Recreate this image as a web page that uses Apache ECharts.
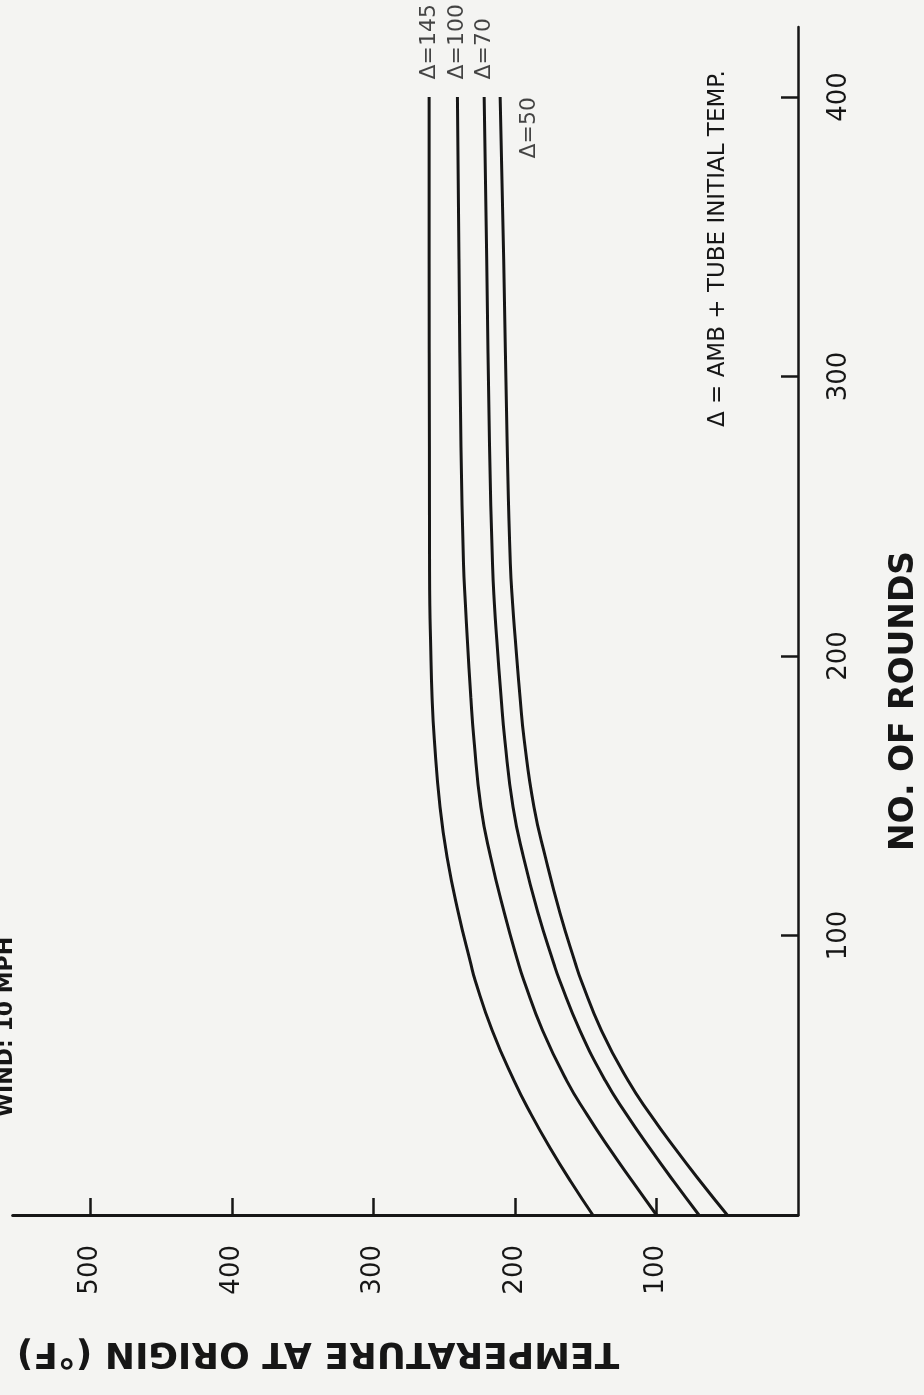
<!DOCTYPE html>
<html><head><meta charset="utf-8">
<script src="https://cdn.jsdelivr.net/npm/echarts@6/dist/echarts.min.js"></script>
<style>html,body{margin:0;padding:0;background:#f4f4f2}#chart{width:924px;height:1395px}</style>
</head><body><div id="chart"></div>
<script>
// No. of rounds (shared sample positions for all curves)
const rounds   = [0, 12, 24, 36, 48, 66, 84, 90, 108, 128, 146, 170, 185, 206, 218, 233, 275, 342, 400];
// Temperature at origin (°F) for each initial-temperature sum Δ
const temp145  = [145, 160.6, 175.2, 188.6, 200.6, 216.1, 228.2, 231.3, 240, 248, 253, 257, 258.6, 259.7, 260.2, 260.4, 260.5, 260.7, 260.7];
const temp100  = [100, 117, 133.6, 149.2, 163.4, 180.5, 193.8, 197.6, 207.5, 217.2, 224.1, 229, 231.2, 233.7, 235, 236.4, 238.2, 239.6, 240.7];
const temp70   = [70, 87.8, 104.9, 121.2, 136.1, 154.1, 168.5, 172.6, 183.7, 194, 201.4, 207.2, 209.8, 212.9, 214.5, 215.9, 218, 220, 221.8];
const temp50   = [50, 69, 87.2, 104.4, 120, 138.9, 153.3, 157.3, 168.2, 178.5, 186.6, 193.5, 196.4, 199.8, 201.6, 203.3, 205.5, 208, 210.5];
const curveNames = ['Δ=145', 'Δ=100', 'Δ=70', 'Δ=50'];
const tempTicks  = [100, 200, 300, 400, 500];
const roundTicks = [100, 200, 300, 400];

const INK = '#161616';
const FONT = 'DejaVu Sans';
const curves = [temp145, temp100, temp70, temp50];

const lineSeries = curves.map((t, k) => ({
  name: curveNames[k],
  type: 'line',
  data: rounds.map((r, i) => [t[i], r]),
  symbol: 'none',
  smooth: 0.5,
  silent: true,
  lineStyle: { color: INK, width: 3 },
  z: 3
}));

const last = rounds.length - 1;
const endLabels = {
  type: 'scatter',
  silent: true,
  symbolSize: 1,
  itemStyle: { color: 'rgba(0,0,0,0)' },
  label: { show: true, formatter: p => p.name, rotate: 90, color: INK, fontFamily: FONT, fontSize: 22 },
  data: curves.map((t, k) => ({
    name: curveNames[k],
    value: [t[last], rounds[last]],
    label: k === curves.length - 1
      ? { position: 'right', distance: 18, align: 'right', verticalAlign: 'top' }
      : { position: 'top', distance: 17, align: 'left', verticalAlign: 'middle' }
  })),
  z: 4
};

const chart = echarts.init(document.getElementById('chart'), null, { renderer: 'canvas' });
chart.setOption({
  backgroundColor: '#f4f4f2',
  animation: false,
  grid: { left: 12.7, right: 126, top: 27.1, bottom: 180, outerBoundsMode: 'none' },
  xAxis: {
    type: 'value', inverse: true, min: 0, max: 555, position: 'bottom',
    axisLine: { show: true, onZero: false, lineStyle: { color: INK, width: 3 } },
    axisTick: { show: true, inside: true, length: 17, customValues: tempTicks, lineStyle: { color: INK, width: 2.5 } },
    axisLabel: { show: true, rotate: 90, margin: 30, customValues: tempTicks, color: INK, fontFamily: FONT, fontSize: 26 },
    splitLine: { show: false }
  },
  yAxis: {
    type: 'value', min: 0, max: 425, position: 'right',
    axisLine: { show: true, onZero: false, lineStyle: { color: INK, width: 2.5 } },
    axisTick: { show: true, inside: true, length: 17, customValues: roundTicks, lineStyle: { color: INK, width: 2.5 } },
    axisLabel: { show: true, rotate: 90, margin: 28, customValues: roundTicks, color: INK, fontFamily: FONT, fontSize: 26 },
    splitLine: { show: false }
  },
  graphic: [
    { type: 'text', x: 718, y: 427, rotation: Math.PI / 2, silent: true,
      style: { text: 'Δ = AMB + TUBE INITIAL TEMP.', fill: INK, fontFamily: FONT, fontSize: 23, align: 'left', verticalAlign: 'middle' } },
    { type: 'text', x: 904, y: 701, rotation: Math.PI / 2, silent: true,
      style: { text: 'NO. OF ROUNDS', fill: INK, fontFamily: FONT, fontWeight: 'bold', fontSize: 33, align: 'center', verticalAlign: 'middle' } },
    { type: 'text', x: 318, y: 1352, rotation: Math.PI, silent: true,
      style: { text: 'TEMPERATURE AT ORIGIN (°F)', fill: INK, fontFamily: FONT, fontWeight: 'bold', fontSize: 36, align: 'center', verticalAlign: 'middle' } },
    { type: 'text', x: 6, y: 1027, rotation: Math.PI / 2, silent: true,
      style: { text: 'WIND: 10 MPH', fill: INK, fontFamily: FONT, fontWeight: 'bold', fontSize: 22, align: 'center', verticalAlign: 'middle' } }
  ],
  series: [...lineSeries, endLabels]
});
</script></body></html>
